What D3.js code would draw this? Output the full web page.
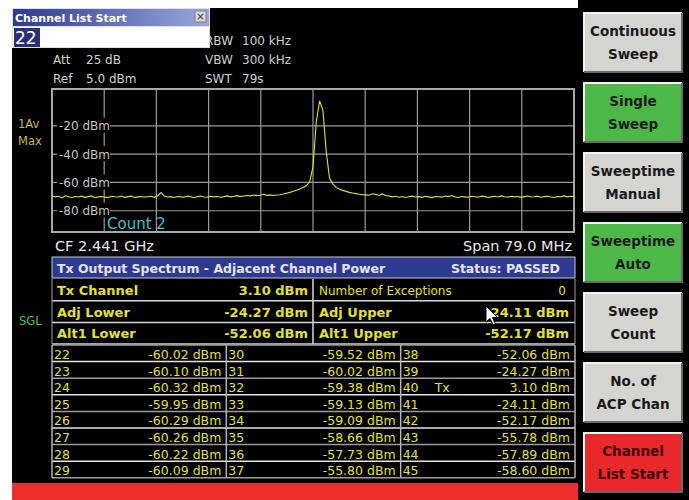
<!DOCTYPE html>
<html>
<head>
<meta charset="utf-8">
<script src="https://cdn.jsdelivr.net/npm/d3@7"></script>
<style>
  body { margin: 0; background: #fff; }
  svg text { font-family: "DejaVu Sans", Verdana, sans-serif; }
</style>
</head>
<body>
<div id="wrapper"></div>
<script>
// trace, 0.5 MHz steps from CF-39.5 to CF+39.5 MHz (dBm)
var traceDbm = [
  -69.6,-70.2,-69.8,-70.9,-69.4,-70.1,-70.6,-69.9,-70.3,-69.7,
  -70.5,-70.0,-69.5,-70.8,-70.2,-69.9,-70.4,-70.7,-69.8,-70.1,
  -70.3,-69.6,-70.5,-70.0,-69.7,-70.6,-70.2,-69.9,-70.4,-70.1,
  -69.8,-70.5,-69.4,-67.2,-69.6,-70.3,-70.0,-70.6,-69.9,-70.2,
  -70.4,-69.7,-70.1,-70.8,-70.0,-69.6,-70.3,-70.5,-69.8,-70.2,
  -69.9,-70.4,-70.0,-69.5,-70.2,-69.8,-69.3,-70.0,-69.6,-69.2,
  -69.5,-68.9,-69.3,-69.0,-68.4,-69.1,-68.8,-69.2,-68.9,
  -68.7,-68.2,-67.6,-67.0,-66.2,-65.5,-64.6,
  -63.5,-62.2,-59.5,-49.0,-17.0,-2.5,-9.0,-38.0,-57.0,-61.0,
  -63.5,-64.8,-65.6,-66.3,-67.0,-67.5,-67.9,-68.3,-68.6,-68.8,-69.0,
  -68.0,-68.4,-69.2,-68.1,-69.3,-69.6,-70.2,-69.8,-70.4,-69.9,
  -70.6,-70.1,-69.7,-70.3,-70.0,-70.5,-69.8,-70.2,-70.7,-69.9,
  -70.1,-70.4,-69.6,-70.0,-69.2,-70.3,-70.6,-69.9,-70.2,-70.5,
  -69.8,-70.1,-70.4,-69.7,-70.0,-70.6,-70.2,-69.8,-70.3,-69.5,
  -70.1,-70.4,-69.8,-70.2,-69.9,-70.5,-70.0,-69.6,-70.3,-70.1,
  -69.7,-70.4,-70.0,-69.8,-70.3,-70.6,-69.9,-70.1,-69.5,-70.2,-69.8,-70.0
];
var levelTicks = [-20, -40, -60, -80];
var levelTop = 6, levelBottom = -95;
var gridDivs = 10;

var headerLeft = [["Att", "25 dB"], ["Ref", "5.0 dBm"]];
var headerRight = [["RBW", "100 kHz"], ["VBW", "300 kHz"], ["SWT", "79s"]];

var summaryRows = [
  ["Tx Channel", "3.10 dBm", "Number of Exceptions", "0"],
  ["Adj  Lower", "-24.27 dBm", "Adj  Upper", "-24.11 dBm"],
  ["Alt1 Lower", "-52.06 dBm", "Alt1 Upper", "-52.17 dBm"]
];

var channels = [22,23,24,25,26,27,28,29,30,31,32,33,34,35,36,37,38,39,40,41,42,43,44,45];
var chanPower = [-60.02,-60.10,-60.32,-59.95,-60.29,-60.26,-60.22,-60.09,
                 -59.52,-60.02,-59.38,-59.13,-59.09,-58.66,-57.73,-55.80,
                 -52.06,-24.27,3.10,-24.11,-52.17,-55.78,-57.89,-58.60];
var txChannel = 40;

var softkeys = [
  {lines: ["Continuous", "Sweep"], color: "#d4d4d0"},
  {lines: ["Single", "Sweep"], color: "#4cb848"},
  {lines: ["Sweeptime", "Manual"], color: "#d4d4d0"},
  {lines: ["Sweeptime", "Auto"], color: "#4cb848"},
  {lines: ["Sweep", "Count"], color: "#d4d4d0"},
  {lines: ["No. of", "ACP Chan"], color: "#d4d4d0"},
  {lines: ["Channel", "List Start"], color: "#e8282a", text: "#3a0404"}
];

var W = 689, H = 500;
var yellow = "#e4e02c";
var svg = d3.select("#wrapper").append("svg").attr("width", W).attr("height", H);

// screen backgrounds
svg.append("rect").attr("x", 0).attr("y", 0).attr("width", W).attr("height", H).attr("fill", "#fff");
svg.append("rect").attr("x", 12).attr("y", 8).attr("width", 566).attr("height", 475).attr("fill", "#000");
svg.append("rect").attr("x", 578).attr("y", 0).attr("width", W - 578).attr("height", H).attr("fill", "#000");
svg.append("rect").attr("x", 12).attr("y", 483).attr("width", 566).attr("height", 17).attr("fill", "#ee2e2a");

// header settings
headerLeft.forEach(function(h, i) {
  svg.append("text").attr("x", 53).attr("y", 64 + i * 19).attr("fill", "#d0d0d0").attr("font-size", 12).text(h[0]);
  svg.append("text").attr("x", 86).attr("y", 64 + i * 19).attr("fill", "#d0d0d0").attr("font-size", 12).text(h[1]);
});
headerRight.forEach(function(h, i) {
  svg.append("text").attr("x", 205).attr("y", 45 + i * 19).attr("fill", "#d0d0d0").attr("font-size", 12).text(h[0]);
  svg.append("text").attr("x", 242).attr("y", 45 + i * 19).attr("fill", "#d0d0d0").attr("font-size", 12).text(h[1]);
});

// diagram
var px0 = 52, px1 = 574, py0 = 89, py1 = 232;
var x = d3.scaleLinear().domain([0, traceDbm.length - 1]).range([px0, px1]);
var y = d3.scaleLinear().domain([levelTop, levelBottom]).range([py0, py1]);
var xDiv = d3.scaleLinear().domain([0, gridDivs]).range([px0, px1]);

var grid = svg.append("g");
grid.selectAll("line.v").data(d3.range(1, gridDivs)).enter().append("line")
  .attr("x1", function(d){ return xDiv(d); }).attr("x2", function(d){ return xDiv(d); })
  .attr("y1", py0).attr("y2", py1).attr("stroke", "#9a9a9a").attr("stroke-width", 1.2);
grid.selectAll("line.h").data(levelTicks).enter().append("line")
  .attr("x1", px0).attr("x2", px1)
  .attr("y1", function(d){ return y(d); }).attr("y2", function(d){ return y(d); })
  .attr("stroke", "#9a9a9a").attr("stroke-width", 1.2);
svg.append("rect").attr("x", px0).attr("y", py0).attr("width", px1 - px0).attr("height", py1 - py0)
  .attr("fill", "none").attr("stroke", "#a8a8a8").attr("stroke-width", 2);

// level labels with black background
levelTicks.forEach(function(t) {
  svg.append("rect").attr("x", 57).attr("y", y(t) - 8).attr("width", 53).attr("height", 15).attr("fill", "#000");
  svg.append("text").attr("x", 59).attr("y", y(t) + 4.5).attr("fill", "#c4c4c4").attr("font-size", 12).text(t + " dBm");
});

svg.append("path").datum(traceDbm)
  .attr("d", d3.line().x(function(d, i){ return x(i); }).y(function(d){ return y(d); }))
  .attr("fill", "none").attr("stroke", yellow).attr("stroke-width", 1.1);

svg.append("text").attr("x", 107).attr("y", 229).attr("fill", "#3cc0d4").attr("font-size", 15).text("Count 2");

svg.append("text").attr("x", 18).attr("y", 128).attr("fill", "#c8bc3c").attr("font-size", 11.5).text("1Av");
svg.append("text").attr("x", 18).attr("y", 145).attr("fill", "#c8bc3c").attr("font-size", 11.5).text("Max");
svg.append("text").attr("x", 19).attr("y", 325).attr("fill", "#4cc04c").attr("font-size", 11.5).text("SGL");

svg.append("text").attr("x", 55).attr("y", 251).attr("fill", "#e8e8e8").attr("font-size", 14.5).text("CF 2.441 GHz");
svg.append("text").attr("x", 572).attr("y", 251).attr("fill", "#e8e8e8").attr("font-size", 14.5)
  .attr("text-anchor", "end").text("Span 79.0 MHz");

// summary table
var tx0 = 52, tx1 = 575, tmid = 313;
svg.append("rect").attr("x", tx0).attr("y", 257).attr("width", tx1 - tx0).attr("height", 21).attr("fill", "#2e3a90")
  .attr("stroke", "#c8c8c8").attr("stroke-width", 1);
svg.append("text").attr("x", 57).attr("y", 272.5).attr("fill", "#e4e4f4").attr("font-size", 12.5).attr("font-weight", "bold")
  .text("Tx Output Spectrum - Adjacent Channel Power");
svg.append("text").attr("x", 560).attr("y", 272.5).attr("fill", "#e4e4f4").attr("font-size", 12.5).attr("font-weight", "bold")
  .attr("text-anchor", "end").text("Status: PASSED");

var rowH = 21.7, rowTop = 279;
summaryRows.forEach(function(r, i) {
  var yy = rowTop + i * rowH;
  svg.append("line").attr("x1", tx0).attr("x2", tx1).attr("y1", yy + rowH).attr("y2", yy + rowH)
    .attr("stroke", "#d8d8d8").attr("stroke-width", 1.5);
  svg.append("text").attr("x", 57).attr("y", yy + 16).attr("fill", yellow).attr("font-size", 13).attr("font-weight", "bold").text(r[0]);
  svg.append("text").attr("x", 308).attr("y", yy + 16).attr("fill", yellow).attr("font-size", 13).attr("font-weight", "bold")
    .attr("text-anchor", "end").text(r[1]);
  svg.append("text").attr("x", 319).attr("y", yy + 16).attr("fill", yellow).attr("font-size", i === 0 ? 12 : 13)
    .attr("font-weight", i === 0 ? "normal" : "bold").text(r[2]);
  svg.append("text").attr("x", i === 0 ? 566 : 569).attr("y", yy + 16).attr("fill", yellow).attr("font-size", i === 0 ? 12 : 13)
    .attr("font-weight", i === 0 ? "normal" : "bold").attr("text-anchor", "end").text(r[3]);
});
svg.append("line").attr("x1", tmid).attr("x2", tmid).attr("y1", rowTop).attr("y2", rowTop + 3 * rowH).attr("stroke", "#d8d8d8").attr("stroke-width", 1.5);
svg.append("line").attr("x1", tx0).attr("x2", tx0).attr("y1", rowTop).attr("y2", rowTop + 3 * rowH).attr("stroke", "#a0a0a0");
svg.append("line").attr("x1", tx1).attr("x2", tx1).attr("y1", rowTop).attr("y2", rowTop + 3 * rowH).attr("stroke", "#a0a0a0");

// channel list
var cTop = 345, cRowH = 16.6, nRows = 8, nCols = 3;
var colX = d3.scaleLinear().domain([0, nCols]).range([tx0, tx1]);
for (var k = 0; k <= nRows; k++) {
  svg.append("line").attr("x1", tx0).attr("x2", tx1)
    .attr("y1", cTop + k * cRowH).attr("y2", cTop + k * cRowH)
    .attr("stroke", k % 2 ? "#e4e4e4" : "#9c9c9c").attr("stroke-width", 1.5);
}
for (var c = 0; c <= nCols; c++) {
  svg.append("line").attr("x1", colX(c)).attr("x2", colX(c)).attr("y1", cTop).attr("y2", cTop + nRows * cRowH)
    .attr("stroke", "#b4b4b4").attr("stroke-width", 1.5);
}
var cells = svg.append("g").selectAll("g").data(channels).enter().append("g")
  .attr("transform", function(d, i) {
    return "translate(" + colX(Math.floor(i / nRows)) + "," + (cTop + (i % nRows) * cRowH) + ")";
  });
cells.append("text").attr("x", 2).attr("y", 14).attr("fill", yellow).attr("font-size", 12.5).text(function(d){ return d; });
cells.append("text").attr("x", colX(1) - colX(0) - 5).attr("y", 14).attr("fill", yellow).attr("font-size", 12.5)
  .attr("text-anchor", "end").text(function(d, i){ return chanPower[i].toFixed(2) + " dBm"; });
cells.filter(function(d){ return d === txChannel; }).append("text").attr("x", 34).attr("y", 14)
  .attr("fill", yellow).attr("font-size", 12.5).text("Tx");

// mouse cursor
svg.append("path").attr("d", "M0,0 L0,16 L4,12.5 L7,19 L9.5,18 L6.5,11.5 L11.5,11.5 Z")
  .attr("transform", "translate(486,306)").attr("fill", "#fff").attr("stroke", "#000").attr("stroke-width", 1);

// softkeys
var keyX = 584, keyW = 98, keyH = 59, keyPitch = 70, keyTop = 13;
var keys = svg.append("g").selectAll("g").data(softkeys).enter().append("g")
  .attr("transform", function(d, i){ return "translate(" + keyX + "," + (keyTop + i * keyPitch) + ")"; });
keys.append("rect").attr("width", keyW).attr("height", keyH).attr("fill", function(d){ return d.color; });
keys.append("path").attr("d", "M0," + keyH + " L0,0 L" + keyW + ",0").attr("fill", "none").attr("stroke", "#f4f4f4").attr("stroke-width", 2);
keys.append("path").attr("d", "M0," + keyH + " L" + keyW + "," + keyH + " L" + keyW + ",0").attr("fill", "none").attr("stroke", "#6a6a6a").attr("stroke-width", 2);
keys.each(function(d) {
  var g = d3.select(this);
  d.lines.forEach(function(l, j) {
    g.append("text").attr("x", keyW / 2).attr("y", 23 + j * 23).attr("text-anchor", "middle")
      .attr("font-size", 13.5).attr("font-weight", "bold").attr("fill", d.text || "#1a1a1a").text(l);
  });
});

// dialog box
var defs = svg.append("defs");
var grad = defs.append("linearGradient").attr("id", "tbar");
grad.append("stop").attr("offset", "0%").attr("stop-color", "#2c3a94");
grad.append("stop").attr("offset", "100%").attr("stop-color", "#9aa8dc");
svg.append("rect").attr("x", 12).attr("y", 8).attr("width", 198).attr("height", 40).attr("fill", "#e0e0e0");
svg.append("rect").attr("x", 13).attr("y", 9).attr("width", 196).attr("height", 17).attr("fill", "url(#tbar)");
svg.append("text").attr("x", 15).attr("y", 21.5).attr("fill", "#fff").attr("font-size", 11).attr("font-weight", "bold").text("Channel List Start");
svg.append("rect").attr("x", 195).attr("y", 11).attr("width", 11).attr("height", 11).attr("fill", "#d8d8d8").attr("stroke", "#808080");
svg.append("text").attr("x", 200.5).attr("y", 20).attr("fill", "#303030").attr("font-size", 10).attr("text-anchor", "middle").text("×");
svg.append("rect").attr("x", 13).attr("y", 27).attr("width", 196).attr("height", 20).attr("fill", "#fff");
svg.append("rect").attr("x", 14).attr("y", 28).attr("width", 26).attr("height", 19).attr("fill", "#2a2e7c");
svg.append("text").attr("x", 15).attr("y", 44).attr("fill", "#fff").attr("font-size", 17).text("22");
</script>
</body>
</html>
